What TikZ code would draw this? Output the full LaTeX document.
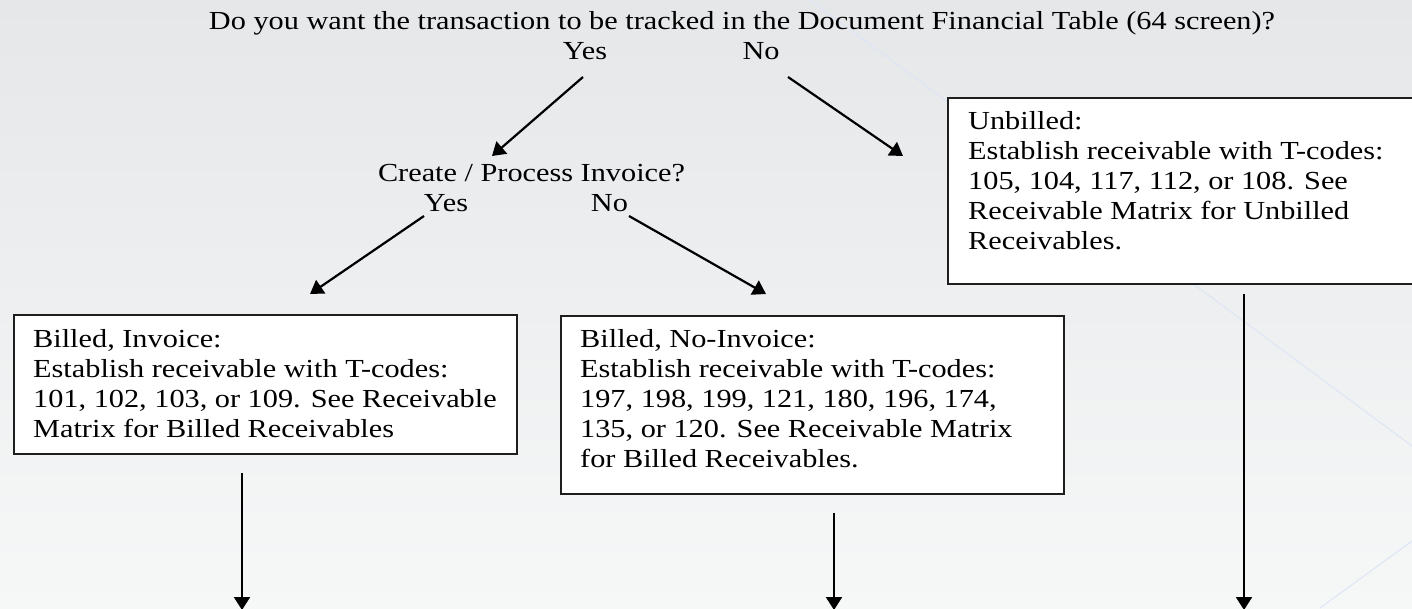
\documentclass[tikz,border=0pt]{standalone}
\usepackage{fontspec}
\setmainfont{Liberation Serif}[FakeStretch=1.165]
\usetikzlibrary{arrows.meta}
\definecolor{bgtop}{HTML}{E6E7E9}
\definecolor{bgbottom}{HTML}{F6F7F7}
\definecolor{decoline}{HTML}{DCE6F5}
\definecolor{frame}{HTML}{1E1E1E}
\begin{document}
\begin{tikzpicture}[x=1pt,y=-1pt,
  lbl/.style={inner sep=0pt, anchor=base, font=\fontsize{26}{30}\selectfont},
  boxtext/.style={inner sep=0pt, anchor=base west, font=\fontsize{26}{30}\selectfont},
  panel/.style={draw=frame, line width=2pt, fill=white, inner sep=0pt, anchor=north west},
  flow/.style={line width=2.2pt, -{Triangle[length=13pt,width=16pt]}},
  deco/.style={draw=decoline, line width=1pt}]
\useasboundingbox (0,0) rectangle (1412,608);
\clip (0,0) rectangle (1412,608);

% background wash and faint decorative lines
\shade[top color=bgtop, bottom color=bgbottom] (0,0) rectangle (1412,608);
\draw[deco] (810,0) -- (1412,446);
\draw[deco] (1320,608) -- (1412,541);

% questions and answers
\node[lbl] (q1) at (742,29) {Do you want the transaction to be tracked in the Document Financial Table (64 screen)?};
\node[lbl] (q1yes) at (585,59) {Yes};
\node[lbl] (q1no) at (761,59) {No};
\node[lbl] (q2) at (531.5,181) {Create / Process Invoice?};
\node[lbl] (q2yes) at (446,211) {Yes};
\node[lbl] (q2no) at (609.5,211) {No};

% outcome boxes
\node[panel, minimum width=503, minimum height=139] (billedinv) at (13,314) {};
\node[panel, minimum width=503, minimum height=178] (billednoinv) at (560,315) {};
\node[panel, minimum width=470, minimum height=186] (unbilled) at (947,97) {};

\node[boxtext] (billedinvtext) at (33,347) {\parbox[t]{600pt}{Billed, Invoice:\\
Establish receivable with T-codes:\\
101, 102, 103, or 109. See Receivable\\
Matrix for Billed Receivables}};
\node[boxtext] (billednoinvtext) at (580,347) {\parbox[t]{600pt}{Billed, No-Invoice:\\
Establish receivable with T-codes:\\
197, 198, 199, 121, 180, 196, 174,\\
135, or 120. See Receivable Matrix\\
for Billed Receivables.}};
\node[boxtext] (unbilledtext) at (968,129) {\parbox[t]{600pt}{Unbilled:\\
Establish receivable with T-codes:\\
105, 104, 117, 112, or 108. See\\
Receivable Matrix for Unbilled\\
Receivables.}};

% arrow end points
\coordinate (yes1tail) at (583,77);
\coordinate (yes1head) at (492,156);
\coordinate (no1tail) at (788,77);
\coordinate (no1head) at (903,156);
\coordinate (yes2tail) at (424,216);
\coordinate (yes2head) at (310,294);
\coordinate (no2tail) at (629,216);
\coordinate (no2head) at (766,294);
\coordinate (downAtail) at (242,473);
\coordinate (downAhead) at (242,610);
\coordinate (downBtail) at (834,513);
\coordinate (downBhead) at (834,610);
\coordinate (downCtail) at (1244,294);
\coordinate (downChead) at (1244,610);

% connectors
\draw[flow] (yes1tail) -- (yes1head);
\draw[flow] (no1tail) -- (no1head);
\draw[flow] (yes2tail) -- (yes2head);
\draw[flow] (no2tail) -- (no2head);
\draw[flow] (downAtail) -- (downAhead);
\draw[flow] (downBtail) -- (downBhead);
\draw[flow] (downCtail) -- (downChead);
\end{tikzpicture}
\end{document}
